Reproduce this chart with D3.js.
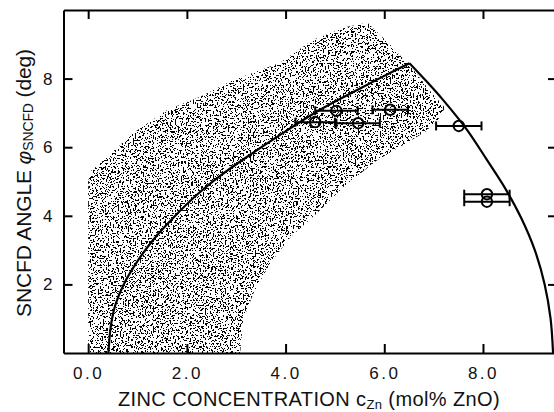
<!DOCTYPE html>
<html>
<head>
<meta charset="utf-8">
<script src="https://cdn.jsdelivr.net/npm/d3@7"></script>
<style>
  body { margin: 0; background: #fff; }
  svg text { font-family: "Liberation Sans", Arial, sans-serif; fill: #111; }
</style>
</head>
<body>
<div id="chart"></div>
<script>
// solid boundary curve, left branch (bottom to peak) and right branch (peak to bottom)
const leftX = [0.41, 0.46, 0.55, 0.72, 1.00, 1.32, 1.73, 2.21, 2.68, 3.20, 3.89, 4.70, 5.47, 6.00, 6.51];
const leftY = [0.00, 0.80, 1.40, 2.00, 2.68, 3.30, 3.95, 4.62, 5.17, 5.70, 6.36, 7.09, 7.68, 8.08, 8.45];
const rightX = [6.51, 6.85, 7.19, 7.68, 8.08, 8.45, 8.77, 9.05, 9.25, 9.37, 9.42];
const rightY = [8.45, 7.93, 7.38, 6.50, 5.63, 4.80, 3.95, 3.00, 2.00, 1.00, 0.00];

// stippled band outline (closed)
const bandX = [0.00, 0.00, 0.05, 0.25, 0.92, 1.61, 2.27, 2.94, 3.89, 4.56, 5.25, 5.66, 6.12, 6.59, 6.93, 7.23,
               7.09, 6.83, 6.52, 5.86, 5.17, 4.64, 4.10, 3.69, 3.35, 3.14, 3.08];
const bandY = [0.00, 5.00, 5.30, 5.54, 6.42, 7.09, 7.47, 7.96, 8.46, 9.13, 9.51, 9.63, 8.99, 8.26, 7.64, 7.15,
               6.80, 6.45, 6.18, 5.63, 4.84, 4.08, 3.38, 2.62, 1.75, 0.96, 0.00];

// measured points with horizontal error bars
const ptX = [4.60, 5.03, 5.47, 6.12, 7.51, 8.08, 8.08];
const ptY = [6.73, 7.06, 6.70, 7.09, 6.62, 4.63, 4.41];
const ptErr = [0.40, 0.43, 0.44, 0.36, 0.46, 0.46, 0.46];

const xTicks = [0, 2, 4, 6, 8];
const yTicks = [2, 4, 6, 8];

const width = 554, height = 412;

const svg = d3.select("#chart").append("svg")
  .attr("width", width)
  .attr("height", height);

const x = d3.scaleLinear().domain([-0.5, 9.5]).range([63.5, 557]);
const y = d3.scaleLinear().domain([0, 10]).range([353, 10]);

// stipple texture from noise, thresholded to black specks
const defs = svg.append("defs");
const filt = defs.append("filter")
  .attr("id", "stipple")
  .attr("filterUnits", "userSpaceOnUse")
  .attr("x", 0).attr("y", 0).attr("width", width).attr("height", height);
filt.append("feTurbulence")
  .attr("type", "fractalNoise")
  .attr("baseFrequency", 0.6)
  .attr("numOctaves", 2)
  .attr("seed", 4)
  .attr("result", "noise");
filt.append("feColorMatrix")
  .attr("type", "matrix")
  .attr("values", "0 0 0 0 0  0 0 0 0 0  0 0 0 0 0  -4 0 0 0 2.2");
filt.append("feComponentTransfer")
  .append("feFuncA").attr("type", "discrete").attr("tableValues", "0 1");

const band = bandX.map((d, i) => [d, bandY[i]]);
defs.append("clipPath").attr("id", "bandClip")
  .append("path")
  .attr("d", d3.line().x(d => x(d[0])).y(d => y(d[1])).curve(d3.curveLinearClosed)(band));

svg.append("rect")
  .attr("x", 0).attr("y", 0).attr("width", width).attr("height", height)
  .attr("fill", "#000")
  .attr("filter", "url(#stipple)")
  .attr("clip-path", "url(#bandClip)");

// boundary curve
const line = d3.line().x(d => x(d[0])).y(d => y(d[1])).curve(d3.curveCatmullRom.alpha(0.5));
[[leftX, leftY], [rightX, rightY]].forEach(([xs, ys]) => {
  svg.append("path")
    .attr("d", line(xs.map((d, i) => [d, ys[i]])))
    .attr("fill", "none")
    .attr("stroke", "#000")
    .attr("stroke-width", 2.2);
});

// error bars + open circles
const pts = svg.append("g").selectAll("g")
  .data(ptX.map((d, i) => ({ x: d, y: ptY[i], e: ptErr[i] })))
  .join("g")
  .attr("stroke", "#000")
  .attr("stroke-width", 2);
pts.append("line")
  .attr("x1", d => x(d.x - d.e)).attr("x2", d => x(d.x + d.e))
  .attr("y1", d => y(d.y)).attr("y2", d => y(d.y));
pts.append("line")
  .attr("x1", d => x(d.x - d.e)).attr("x2", d => x(d.x - d.e))
  .attr("y1", d => y(d.y) - 4.5).attr("y2", d => y(d.y) + 4.5);
pts.append("line")
  .attr("x1", d => x(d.x + d.e)).attr("x2", d => x(d.x + d.e))
  .attr("y1", d => y(d.y) - 4.5).attr("y2", d => y(d.y) + 4.5);
pts.append("circle")
  .attr("cx", d => x(d.x)).attr("cy", d => y(d.y))
  .attr("r", 5.2)
  .attr("fill", "none");

// axes, ticks pointing inward
function styleAxis(g) {
  g.selectAll("path, line").attr("stroke", "#000").attr("stroke-width", 2);
  g.selectAll("text").attr("font-size", 17).attr("fill", "#111")
    .attr("font-family", "\"Liberation Sans\", Arial, sans-serif");
}

svg.append("g")
  .attr("transform", `translate(0,${y(0)})`)
  .call(d3.axisBottom(x).tickValues(xTicks).tickSizeInner(-9).tickSizeOuter(0)
    .tickPadding(14).tickFormat(d3.format(".1f")))
  .call(styleAxis)
  .selectAll("text").attr("letter-spacing", "2.5px");

svg.append("g")
  .attr("transform", `translate(0,${y(10)})`)
  .call(d3.axisTop(x).tickValues(xTicks).tickSizeInner(-9).tickSizeOuter(0).tickFormat(""))
  .call(styleAxis);

svg.append("g")
  .attr("transform", `translate(${x(-0.5)},0)`)
  .call(d3.axisLeft(y).tickValues(yTicks).tickSizeInner(-9).tickSizeOuter(0).tickPadding(11))
  .call(styleAxis);

svg.append("g")
  .attr("transform", `translate(${x(9.5)},0)`)
  .call(d3.axisRight(y).tickValues(yTicks).tickSizeInner(-9).tickSizeOuter(0).tickFormat(""))
  .call(styleAxis);

// axis titles
const xTitle = svg.append("text")
  .attr("x", 309).attr("y", 406)
  .attr("text-anchor", "middle")
  .attr("font-size", 20);
xTitle.append("tspan").text("ZINC CONCENTRATION c");
xTitle.append("tspan").attr("font-size", 13).attr("dy", 3).text("Zn");
xTitle.append("tspan").attr("dy", -3).text(" (mol% ZnO)");

const yTitle = svg.append("text")
  .attr("transform", "translate(31,183) rotate(-90)")
  .attr("text-anchor", "middle")
  .attr("font-size", 21);
yTitle.append("tspan").text("SNCFD ANGLE ");
yTitle.append("tspan").attr("font-style", "italic").text("φ");
yTitle.append("tspan").attr("font-size", 14).attr("dy", 2).text("SNCFD");
yTitle.append("tspan").attr("dy", -2).text(" (deg)");

// stretch titles to the measured lengths
[[xTitle, 382], [yTitle, 268]].forEach(([t, target]) => {
  const n = t.text().length;
  const w = t.node().getComputedTextLength();
  t.attr("letter-spacing", ((target - w) / n) + "px");
});
</script>
</body>
</html>
